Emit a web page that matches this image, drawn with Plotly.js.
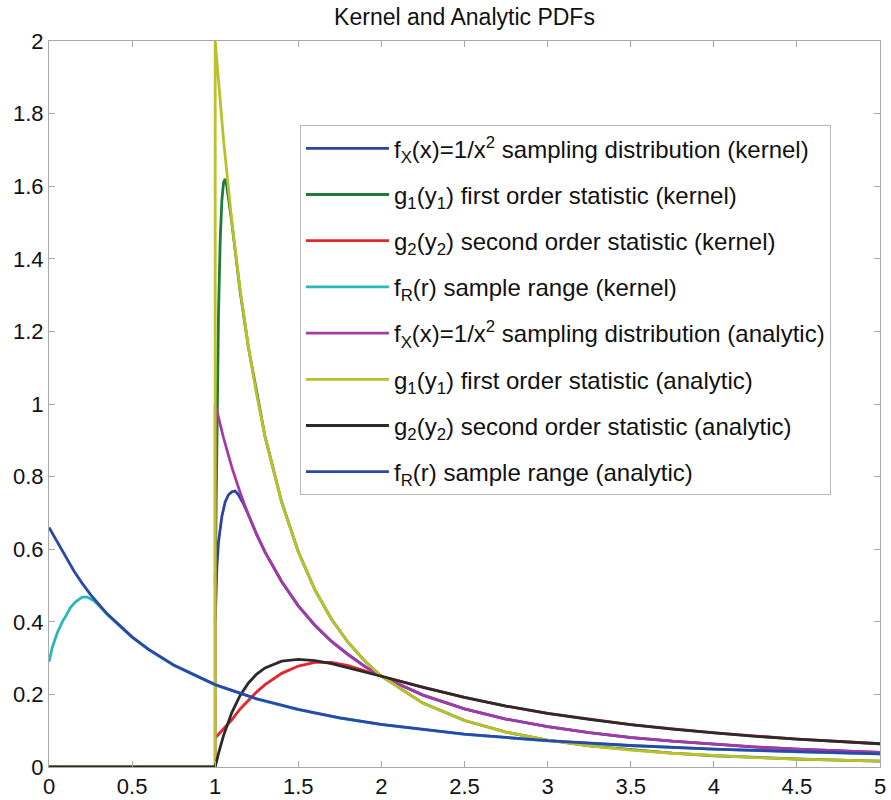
<!DOCTYPE html>
<html>
<head>
<meta charset="utf-8">
<script src="https://cdn.plot.ly/plotly-3.0.1.min.js"></script>
<style>html,body{margin:0;padding:0;background:#fff;}#chart{width:891px;height:800px;}</style>
</head>
<body>
<div id="chart"></div>
<script>
// ---- data ----
const seriesNames = [
  'f<sub>X</sub>(x)=1/x<sup>2</sup> sampling distribution (kernel)',
  'g<sub>1</sub>(y<sub>1</sub>) first order statistic (kernel)',
  'g<sub>2</sub>(y<sub>2</sub>) second order statistic (kernel)',
  'f<sub>R</sub>(r) sample range (kernel)',
  'f<sub>X</sub>(x)=1/x<sup>2</sup> sampling distribution (analytic)',
  'g<sub>1</sub>(y<sub>1</sub>) first order statistic (analytic)',
  'g<sub>2</sub>(y<sub>2</sub>) second order statistic (analytic)',
  'f<sub>R</sub>(r) sample range (analytic)'
];

// kernel estimates
const xKernelFX = [1, 1.01, 1.02, 1.04, 1.06, 1.08, 1.1, 1.12, 1.14, 1.17, 1.2, 1.25, 1.3, 1.4, 1.5, 1.6, 1.7, 1.8, 1.9, 2, 2.25, 2.5, 2.75, 3, 3.25, 3.5, 3.75, 4, 4.25, 4.5, 4.75, 5];
const yKernelFX = [0.40, 0.55, 0.62, 0.69, 0.73, 0.75, 0.758, 0.76, 0.75, 0.725, 0.695, 0.64, 0.592, 0.511, 0.444, 0.39, 0.346, 0.31, 0.277, 0.25, 0.198, 0.16, 0.132, 0.111, 0.095, 0.081, 0.071, 0.062, 0.055, 0.049, 0.044, 0.04];

const xKernelG1 = [1, 1.01, 1.02, 1.03, 1.04, 1.05, 1.06, 1.07, 1.08, 1.1, 1.15, 1.2, 1.3, 1.4, 1.5, 1.6, 1.7, 1.8, 1.9, 2, 2.25, 2.5, 2.75, 3, 3.25, 3.5, 3.75, 4, 4.25, 4.5, 4.75, 5];
const yKernelG1 = [0.5, 0.95, 1.25, 1.45, 1.56, 1.61, 1.62, 1.6, 1.57, 1.5, 1.31, 1.155, 0.91, 0.73, 0.593, 0.488, 0.407, 0.343, 0.292, 0.25, 0.176, 0.128, 0.096, 0.074, 0.058, 0.047, 0.038, 0.031, 0.026, 0.022, 0.019, 0.016];

const xKernelG2 = [1, 1.05, 1.1, 1.15, 1.2, 1.25, 1.3, 1.4, 1.5, 1.6, 1.7, 1.8, 1.9, 2, 2.25, 2.5, 2.75, 3, 3.5, 4, 4.5, 5];
const yKernelG2 = [0.08, 0.105, 0.13, 0.16, 0.185, 0.207, 0.227, 0.258, 0.278, 0.288, 0.288, 0.279, 0.265, 0.25, 0.22, 0.192, 0.168, 0.148, 0.117, 0.094, 0.077, 0.064];

const xKernelR = [0, 0.02, 0.05, 0.08, 0.1, 0.13, 0.16, 0.2, 0.23, 0.27, 0.3, 0.35, 0.5, 0.6, 0.75, 1, 1.25, 1.5, 1.75, 2, 2.5, 3, 3.5, 4, 4.5, 5];
const yKernelR = [0.29, 0.33, 0.37, 0.40, 0.415, 0.44, 0.455, 0.468, 0.468, 0.458, 0.445, 0.42, 0.357, 0.323, 0.28, 0.226, 0.187, 0.158, 0.135, 0.117, 0.09, 0.072, 0.059, 0.049, 0.042, 0.036];

// analytic curves
const xAnalytic = [0, 1, 1, 1.02, 1.05, 1.1, 1.15, 1.2, 1.25, 1.3, 1.4, 1.5, 1.6, 1.7, 1.8, 1.9, 2, 2.25, 2.5, 2.75, 3, 3.25, 3.5, 3.75, 4, 4.25, 4.5, 4.75, 5];
const yAnalyticFX = [0, 0, 1, 0.961, 0.907, 0.826, 0.756, 0.694, 0.64, 0.592, 0.51, 0.444, 0.391, 0.346, 0.309, 0.277, 0.25, 0.198, 0.16, 0.132, 0.111, 0.0947, 0.0816, 0.0711, 0.0625, 0.0554, 0.0494, 0.0443, 0.04];
const yAnalyticG1 = [0, 0, 2, 1.885, 1.728, 1.503, 1.315, 1.157, 1.024, 0.91, 0.729, 0.593, 0.488, 0.407, 0.343, 0.292, 0.25, 0.1756, 0.128, 0.0962, 0.0741, 0.0583, 0.0466, 0.0379, 0.03125, 0.026, 0.0219, 0.0187, 0.016];
const yAnalyticG2 = [0, 0, 0, 0.0377, 0.0864, 0.15, 0.197, 0.2315, 0.256, 0.273, 0.2915, 0.2963, 0.293, 0.285, 0.274, 0.2624, 0.25, 0.2195, 0.192, 0.168, 0.148, 0.1311, 0.1166, 0.1043, 0.0938, 0.0846, 0.0768, 0.07, 0.064];

const xAnalyticR = [0, 0.05, 0.1, 0.15, 0.2, 0.25, 0.35, 0.5, 0.6, 0.75, 1, 1.25, 1.5, 1.75, 2, 2.5, 3, 3.5, 4, 4.5, 5];
const yAnalyticR = [0.66, 0.62, 0.577, 0.54, 0.506, 0.475, 0.422, 0.3585, 0.324, 0.281, 0.227, 0.188, 0.1585, 0.1355, 0.1174, 0.0907, 0.0724, 0.0592, 0.0494, 0.0419, 0.036];

const xTicks = [0, 0.5, 1, 1.5, 2, 2.5, 3, 3.5, 4, 4.5, 5];
const xTickText = ['0', '0.5', '1', '1.5', '2', '2.5', '3', '3.5', '4', '4.5', '5'];
const yTicks = [0, 0.2, 0.4, 0.6, 0.8, 1, 1.2, 1.4, 1.6, 1.8, 2];
const yTickText = ['0', '0.2', '0.4', '0.6', '0.8', '1', '1.2', '1.4', '1.6', '1.8', '2'];

// ---- styling ----
const colors = ['#2b44a0', '#1f7a3c', '#e3262c', '#2bb8b8', '#a43aa6', '#bcc02a', '#2b2b2b', '#2b48a8'];
const xs = [xKernelFX, xKernelG1, xKernelG2, xKernelR, xAnalytic, xAnalytic, xAnalytic, xAnalyticR];
const ys = [yKernelFX, yKernelG1, yKernelG2, yKernelR, yAnalyticFX, yAnalyticG1, yAnalyticG2, yAnalyticR];

const traces = xs.map((x, i) => ({
  type: 'scatter',
  mode: 'lines',
  x: x,
  y: ys[i],
  name: seriesNames[i],
  legendgroup: 'g' + i,
  line: {color: colors[i], width: 2.8},
  hoverinfo: 'skip'
}));

const font = 'Liberation Sans, Arial, sans-serif';
const layout = {
  width: 891,
  height: 800,
  margin: {l: 49, r: 11, t: 41, b: 33},
  paper_bgcolor: '#ffffff',
  plot_bgcolor: '#ffffff',
  font: {family: font, color: '#111', size: 22},
  title: {text: 'Kernel and Analytic PDFs', font: {family: font, size: 23, color: '#111'}, x: 0.5, xref: 'paper', xanchor: 'center', y: 0.979, yanchor: 'middle'},
  showlegend: true,
  legend: {
    x: 0.302, y: 0.884, xanchor: 'left', yanchor: 'top',
    bgcolor: '#ffffff', bordercolor: '#b8b8b8', borderwidth: 1,
    font: {family: font, size: 24, color: '#111'},
    itemwidth: 83,
    tracegroupgap: 12,
    traceorder: 'grouped'
  },
  xaxis: {
    range: [0, 5], tickvals: xTicks, ticktext: xTickText,
    showgrid: false, zeroline: false,
    showline: true, linecolor: '#a8a8a8', linewidth: 1, mirror: 'ticks',
    ticks: 'inside', ticklen: 6, tickcolor: '#a8a8a8',
    tickfont: {family: font, size: 22, color: '#111'}
  },
  yaxis: {
    range: [0, 2], tickvals: yTicks, ticktext: yTickText,
    showgrid: false, zeroline: false,
    showline: true, linecolor: '#a8a8a8', linewidth: 1, mirror: 'ticks',
    ticks: 'inside', ticklen: 6, tickcolor: '#a8a8a8',
    tickfont: {family: font, size: 22, color: '#111'}
  }
};

Plotly.newPlot('chart', traces, layout, {displayModeBar: false, staticPlot: true});
</script>
</body>
</html>
